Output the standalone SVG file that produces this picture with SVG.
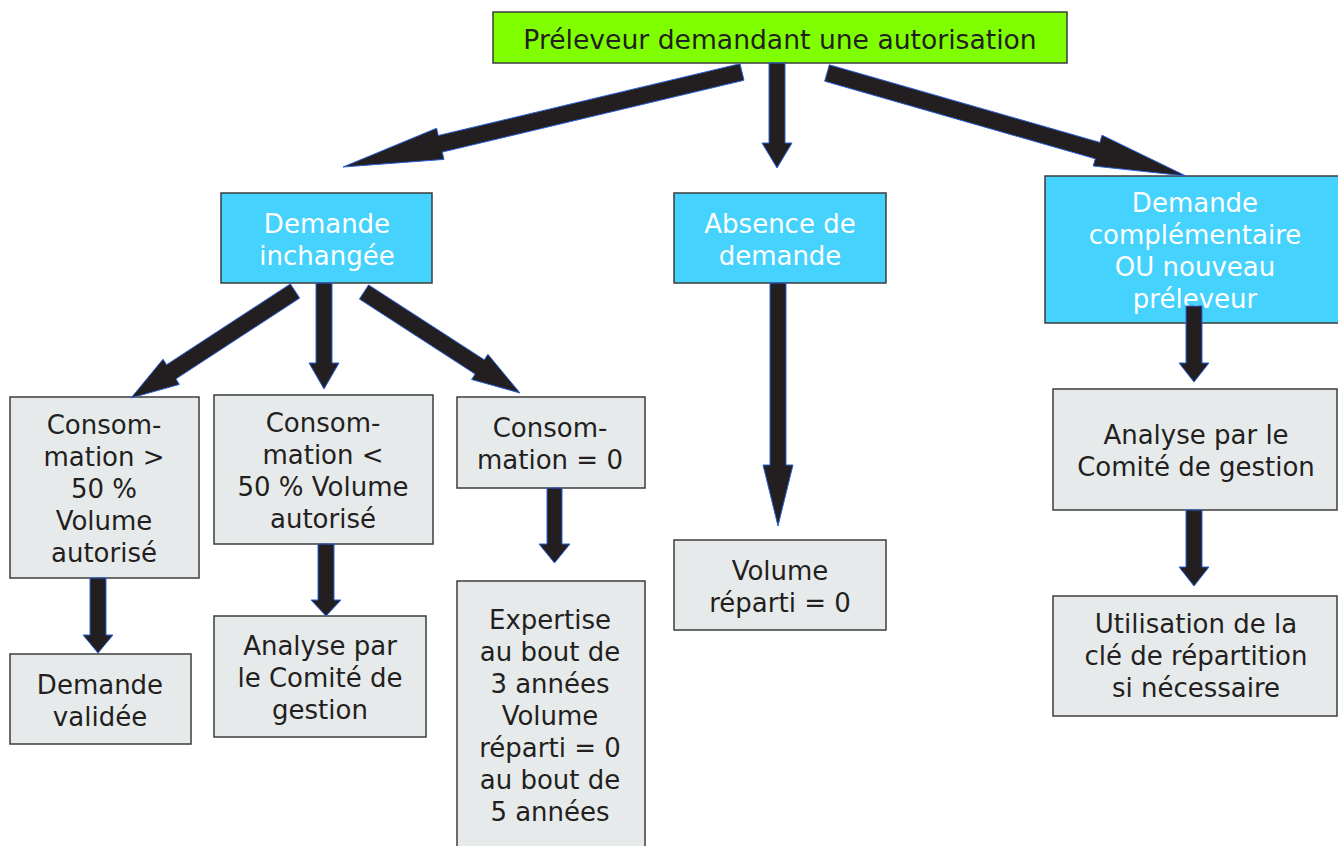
<svg xmlns="http://www.w3.org/2000/svg" width="1338" height="846" viewBox="0 0 1338 846">
<style>
.box{stroke:#3c3c3c;stroke-width:1.5}
.green{fill:#7fff00}
.blue{fill:#45d2fc}
.grey{fill:#e7eaeb}
text{font-family:"DejaVu Sans","Verdana",sans-serif;font-size:26px;text-anchor:middle}
.dk{fill:#231f20}
.wt{fill:#ffffff}
.arr{fill:#231f20;stroke:#2b62d9;stroke-width:1;stroke-linejoin:miter}
</style>
<rect width="1338" height="846" fill="#ffffff"/>
<g id="n-top"><rect class="box green" x="493" y="12" width="574" height="51"/><text class="dk" x="780" y="49" style="font-size:26.6px">Préleveur demandant une autorisation</text></g>
<g id="n-inchangee"><rect class="box blue" x="221" y="193" width="211" height="90"/><text class="wt" x="327"><tspan x="327" y="233">Demande</tspan><tspan x="327" y="265">inchangée</tspan></text></g>
<g id="n-absence"><rect class="box blue" x="674" y="193" width="212" height="90"/><text class="wt" x="780"><tspan x="780" y="233">Absence de</tspan><tspan x="780" y="265">demande</tspan></text></g>
<g id="n-complementaire"><rect class="box blue" x="1045" y="176" width="300" height="147"/><text class="wt" x="1195"><tspan x="1195" y="212">Demande</tspan><tspan x="1195" y="244">complémentaire</tspan><tspan x="1195" y="276">OU nouveau</tspan><tspan x="1195" y="308">préleveur</tspan></text></g>
<g id="n-sup50"><rect class="box grey" x="10" y="397" width="189" height="181"/><text class="dk" x="104"><tspan x="104" y="434">Consom-</tspan><tspan x="104" y="466">mation &gt;</tspan><tspan x="104" y="498">50 %</tspan><tspan x="104" y="530">Volume</tspan><tspan x="104" y="562">autorisé</tspan></text></g>
<g id="n-inf50"><rect class="box grey" x="214" y="395" width="219" height="149"/><text class="dk" x="323"><tspan x="323" y="432">Consom-</tspan><tspan x="323" y="464">mation &lt;</tspan><tspan x="323" y="496">50 % Volume</tspan><tspan x="323" y="528">autorisé</tspan></text></g>
<g id="n-zero"><rect class="box grey" x="457" y="397" width="188" height="91"/><text class="dk" x="550"><tspan x="550" y="437">Consom-</tspan><tspan x="550" y="469">mation = 0</tspan></text></g>
<g id="n-validee"><rect class="box grey" x="10" y="654" width="181" height="90"/><text class="dk" x="100"><tspan x="100" y="694">Demande</tspan><tspan x="100" y="726">validée</tspan></text></g>
<g id="n-analyse1"><rect class="box grey" x="214" y="616" width="212" height="121"/><text class="dk" x="320"><tspan x="320" y="655">Analyse par</tspan><tspan x="320" y="687">le Comité de</tspan><tspan x="320" y="719">gestion</tspan></text></g>
<g id="n-expertise"><rect class="box grey" x="457" y="581" width="188" height="275"/><text class="dk" x="550"><tspan x="550" y="629">Expertise</tspan><tspan x="550" y="661">au bout de</tspan><tspan x="550" y="693">3 années</tspan><tspan x="550" y="725">Volume</tspan><tspan x="550" y="757">réparti = 0</tspan><tspan x="550" y="789">au bout de</tspan><tspan x="550" y="821">5 années</tspan></text></g>
<g id="n-volume0"><rect class="box grey" x="674" y="540" width="212" height="90"/><text class="dk" x="780"><tspan x="780" y="580">Volume</tspan><tspan x="780" y="612">réparti = 0</tspan></text></g>
<g id="n-analyse2"><rect class="box grey" x="1053" y="389" width="284" height="121"/><text class="dk" x="1196"><tspan x="1196" y="444">Analyse par le</tspan><tspan x="1196" y="476">Comité de gestion</tspan></text></g>
<g id="n-cle"><rect class="box grey" x="1053" y="596" width="284" height="120"/><text class="dk" x="1196"><tspan x="1196" y="633">Utilisation de la</tspan><tspan x="1196" y="665">clé de répartition</tspan><tspan x="1196" y="697">si nécessaire</tspan></text></g>
<g id="connectors">
<polygon class="arr" points="740.0,63.7 438.3,135.5 436.6,128.2 343,167 444.0,159.4 442.3,152.1 744.0,80.3"/>
<polygon class="arr" points="769,63 769,143 762,143 777,168 792,143 785,143 785,63"/>
<polygon class="arr" points="829.3,64.8 1099.9,142.4 1102.0,135.2 1186,176 1093.2,166.0 1095.3,158.8 824.7,81.2"/>
<polygon class="arr" points="290.4,283.9 166.6,364.7 163.0,359.2 131,398 179.4,384.4 175.9,378.9 299.7,298.1"/>
<polygon class="arr" points="316,283 316,363 309,363 324,389 339,363 332,363 332,283"/>
<polygon class="arr" points="368.6,284.9 484.3,359.8 487.9,354.3 520,393 471.6,379.5 475.1,374.0 359.4,299.1"/>
<polygon class="arr" points="90,578 90,635 83,635 98,653 113,635 106,635 106,578"/>
<polygon class="arr" points="318,544 318,600 311,600 326,616 341,600 334,600 334,544"/>
<polygon class="arr" points="547,488 547,544 539,544 554.5,563 570,544 562,544 562,488"/>
<polygon class="arr" points="770,283 770,465 763,465 778,526 793,465 786,465 786,283"/>
<polygon class="arr" points="1186,306 1186,363 1179,363 1194,382 1209,363 1202,363 1202,306"/>
<polygon class="arr" points="1186,510 1186,567 1179,567 1194,586 1209,567 1202,567 1202,510"/>
</g>
</svg>
